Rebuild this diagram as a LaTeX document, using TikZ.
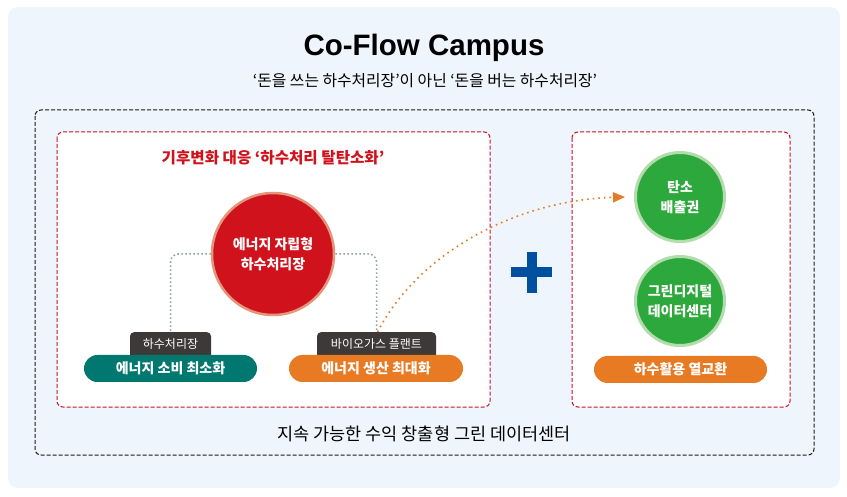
\documentclass[tikz,border=0pt]{standalone}
\usepackage{fontspec}
\setmainfont{Noto Sans CJK KR}
\newfontfamily\titlefont{Liberation Sans}
\usetikzlibrary{arrows.meta,positioning}
\definecolor{panelbg}{RGB}{239,245,252}
\definecolor{framered}{RGB}{200,20,35}
\definecolor{hubred}{RGB}{207,18,27}
\definecolor{hubrim}{RGB}{228,150,125}
\definecolor{leafgreen}{RGB}{45,168,60}
\definecolor{leafrim}{RGB}{178,220,172}
\definecolor{tealpill}{RGB}{0,120,112}
\definecolor{orangepill}{RGB}{232,122,35}
\definecolor{tabgray}{RGB}{62,57,57}
\definecolor{linkgray}{RGB}{140,160,178}
\definecolor{plusblue}{RGB}{0,80,160}

\begin{document}
\begin{tikzpicture}[x=1pt,y=-1pt,>=Latex]
  \tikzstyle{frame}=[dash pattern=on 4pt off 2pt,line width=1pt,rounded corners=6pt]
  \tikzstyle{hub}=[circle,fill=hubred,draw=hubrim,line width=2.5pt,minimum size=122pt,inner sep=0pt,align=center,text=white,font=\bfseries\fontsize{14}{20}\selectfont]
  \tikzstyle{leaf}=[circle,fill=leafgreen,draw=leafrim,line width=3pt,minimum size=89pt,inner sep=0pt,align=center,text=white,font=\bfseries\fontsize{14}{20}\selectfont]
  \tikzstyle{tab}=[fill=tabgray,rounded corners=4pt,anchor=north,inner ysep=3pt,text height=13.5pt,text depth=10.5pt,text=white,font=\fontsize{12}{14}\selectfont]
  \tikzstyle{pill}=[rounded corners=13.5pt,minimum width=173pt,minimum height=27pt,text=white,font=\bfseries\fontsize{14}{16}\selectfont]
  \tikzstyle{link}=[linkgray,dash pattern=on 1.5pt off 2.5pt,line width=1.5pt,rounded corners=8pt]
  \useasboundingbox (0,0) rectangle (847,497);
  \fill[panelbg,rounded corners=10pt] (8,7) rectangle (840,488);

  \node[anchor=base,font=\titlefont\bfseries\fontsize{29.5}{32}\selectfont] (title) at (424,56) {Co-Flow Campus};
  \node[anchor=base,font=\fontsize{15.8}{18}\selectfont] (subtitle) at (425,87) {‘돈을 쓰는 하수처리장’이 아닌 ‘돈을 버는 하수처리장’};

  \draw[frame,black!90] (35,110) rectangle (814,455);
  \draw[frame,framered,fill=white] (57,132) rectangle (490,407);
  \draw[frame,framered,fill=white] (572,132) rectangle (790,407);

  \node[anchor=base,text=hubred,font=\bfseries\fontsize{15.6}{18}\selectfont] (heading) at (273,164) {기후변화 대응 ‘하수처리 탈탄소화’};

  \node[hub] (hub) at (273,254) {에너지 자립형\\하수처리장};

  \node[tab,minimum width=81pt] (tabA) at (170.5,332) {하수처리장};
  \node[tab,minimum width=119pt] (tabB) at (376.5,332) {바이오가스 플랜트};
  \node[pill,fill=tealpill] (pillA) at (170.5,368.5) {에너지 소비 최소화};
  \node[pill,fill=orangepill,minimum width=174pt] (pillB) at (376,368.5) {에너지 생산 최대화};

  \draw[link] (hub.west) -| (tabA.north);
  \draw[link] (hub.east) -| (tabB.north);

  \node[leaf] (carbon) at (680,197) {탄소\\배출권};
  \node[leaf] (idc) at (680,301) {그린디지털\\데이터센터};
  \node[pill,fill=orangepill] (pillC) at (680.5,369.5) {하수활용 열교환};

  \draw[orangepill,dash pattern=on 1.6pt off 4pt,line width=1.6pt,-{Triangle[length=12pt,width=10pt]}]
    ([xshift=1pt]tabB.north) .. controls (420,250) and (520,200) .. ([xshift=-9pt]carbon.west);

  \fill[plusblue] (511,267) rectangle (552,277);
  \fill[plusblue] (527,252) rectangle (537,293);

  \node[anchor=base,font=\fontsize{17.5}{20}\selectfont] (slogan) at (424,440) {지속 가능한 수익 창출형 그린 데이터센터};
\end{tikzpicture}
\end{document}
